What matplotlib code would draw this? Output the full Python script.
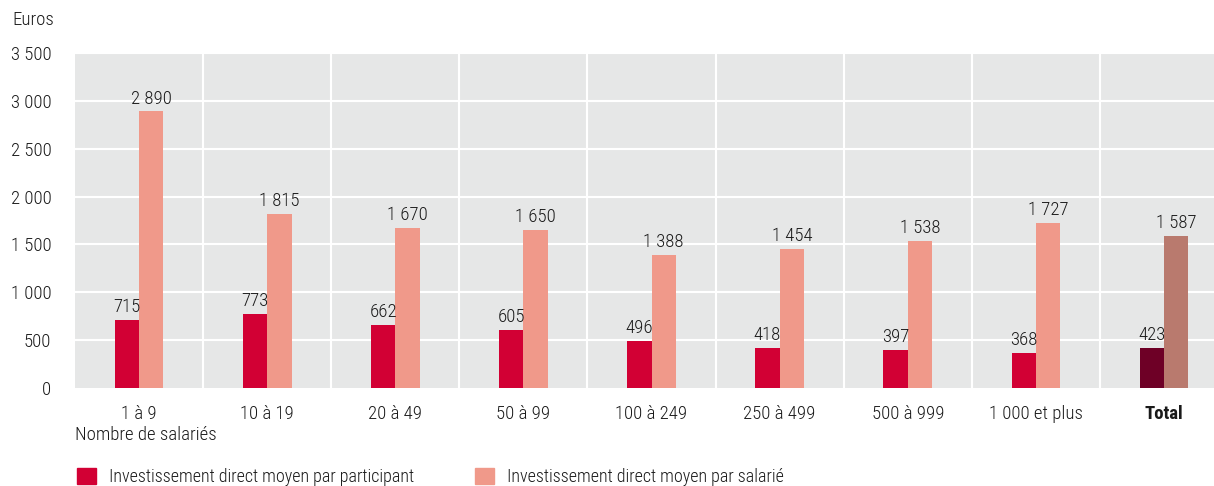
import numpy as np
import matplotlib.pyplot as plt
import matplotlib.patches as mpatches

plt.rcParams['font.family'] = ['Roboto Condensed', 'DejaVu Sans']
plt.rcParams['font.size'] = 13
plt.rcParams['font.weight'] = 'light'

categories = ["1 à 9", "10 à 19", "20 à 49", "50 à 99", "100 à 249",
              "250 à 499", "500 à 999", "1 000 et plus", "Total"]
par_participant = [715, 773, 662, 605, 496, 418, 397, 368, 423]
par_salarie = [2890, 1815, 1670, 1650, 1388, 1454, 1538, 1727, 1587]

red = "#D20034"
salmon = "#F0998A"
red_total = "#6E0026"
salmon_total = "#B97A6E"
txt = "#1a1a1a"

def fmt(v):
    return f"{v:,}".replace(",", " ")

fig = plt.figure(figsize=(12.14, 4.86), dpi=100)
ax = fig.add_axes([75 / 1214, 98 / 486, 1 - 75 / 1214, 335 / 486])
ax.set_facecolor("#E6E7E7")

x = np.arange(len(categories))
w = 0.19
c1 = [red] * (len(x) - 1) + [red_total]
c2 = [salmon] * (len(x) - 1) + [salmon_total]
b1 = ax.bar(x - w / 2, par_participant, w, color=c1, zorder=3)
b2 = ax.bar(x + w / 2, par_salarie, w, color=c2, zorder=3)

for bars, vals in [(b1, par_participant), (b2, par_salarie)]:
    for b, v in zip(bars, vals):
        ax.text(b.get_x() + b.get_width() / 2, v + 40, fmt(v),
                ha="center", va="bottom", fontsize=13.5, color=txt, zorder=4)

ax.set_xlim(-0.5, 8.39)
ax.set_ylim(0, 3500)
ax.set_yticks(np.arange(0, 3501, 500))
ax.set_yticklabels([fmt(v) for v in range(0, 3501, 500)], fontsize=13.5, color=txt)
ax.set_xticks(x)
ax.set_xticklabels(categories, fontsize=13.5, color=txt)
ax.get_xticklabels()[-1].set_fontweight("bold")
ax.tick_params(length=0)
ax.tick_params(axis="x", pad=12)
ax.tick_params(axis="y", pad=17)

for yv in range(500, 3501, 500):
    ax.axhline(yv, color="white", lw=1.5, zorder=1)
for xv in np.arange(0.5, 8, 1):
    ax.axvline(xv, color="white", lw=1.5, zorder=1)
for s in ax.spines.values():
    s.set_visible(False)

fig.text(12 / 1214, 1 - 20 / 486, "Euros", fontsize=13.5, color=txt, va="center")
fig.text(75 / 1214, 1 - 435 / 486, "Nombre de salariés", fontsize=13.5, color=txt, va="center")

handles = [mpatches.Patch(color=red), mpatches.Patch(color=salmon)]
labels = ["Investissement direct moyen par participant", "Investissement direct moyen par salarié"]
fig.legend(handles, labels, loc="lower left", bbox_to_anchor=(61 / 1214, -0.034), ncol=2,
           frameon=False, fontsize=13, handlelength=1.05, handleheight=1.05,
           handletextpad=0.7, columnspacing=3.4, labelcolor=txt)

fig.savefig("out.png", dpi=100)
